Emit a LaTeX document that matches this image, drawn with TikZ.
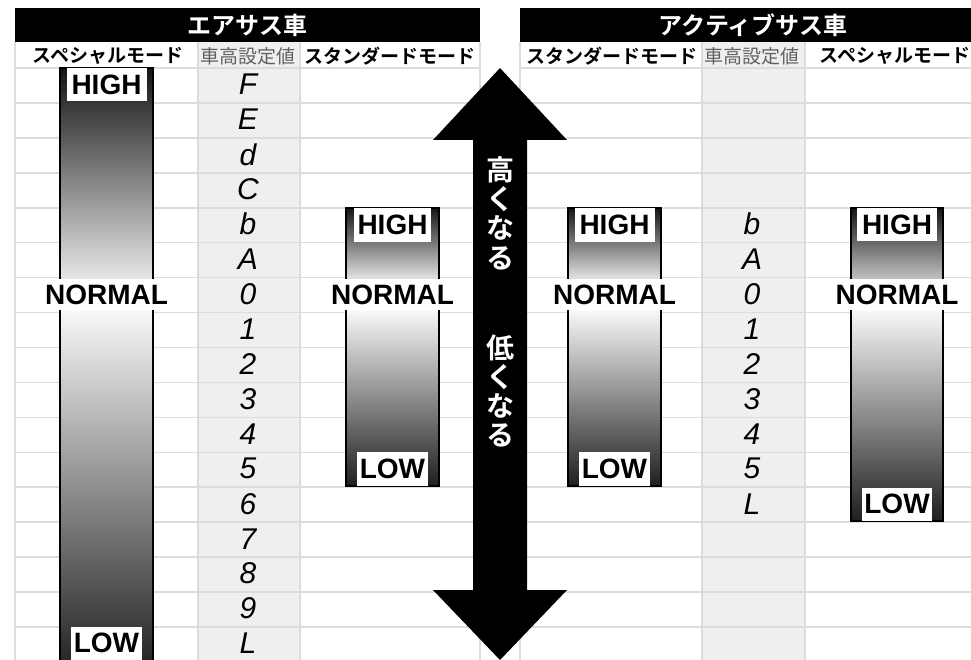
\documentclass[tikz,border=0pt]{standalone}
\usepackage{fontspec}
\setmainfont{Liberation Sans}
\newfontfamily\jp{Noto Sans CJK JP}[BoldFont=* Bold]
\usepackage{tikz}
\usetikzlibrary{positioning}

\definecolor{gridgray}{HTML}{DCDCDC}
\definecolor{colgray}{HTML}{EEF0F0}

\tikzset{
  gridline/.style={draw=gridgray, line width=1.6pt},
  header/.style={fill=black, text=white, minimum height=34pt, inner sep=0pt,
    font=\jp\bfseries\fontsize{24}{26}\selectfont},
  coltitle/.style={inner sep=0pt, font=\jp\bfseries\fontsize{19}{21}\selectfont},
  valtitle/.style={inner sep=0pt, text=black!62, font=\jp\fontsize{19}{21}\selectfont},
  segval/.style={inner sep=0pt, font=\itshape\fontsize{30}{30}\selectfont},
  level/.style={fill=white, inner xsep=2pt, inner ysep=0pt,
    font=\bfseries\fontsize{28}{28}\selectfont},
  barline/.style={draw=black, line width=2pt},
  arrowtext/.style={text=white, align=center, inner sep=0pt,
    font=\jp\bfseries\fontsize{28}{29.3}\selectfont},
}

\begin{document}
\begin{tikzpicture}[x=1pt, y=-1pt]

% page
\useasboundingbox (0,0) rectangle (971,660);
\clip (0,0) rectangle (971,660);
\fill[white] (0,0) rectangle (971,660);

% value columns
\fill[colgray] (198,42) rectangle (300,662);
\fill[colgray] (702,42) rectangle (805,662);

% table grid
\foreach \k in {0,...,17}{
  \draw[gridline] (15,{68+34.94*\k}) -- (480,{68+34.94*\k});
  \draw[gridline] (520,{68+34.94*\k}) -- (980,{68+34.94*\k});
}
\foreach \x in {15,198,300,480,520,702,805}
  \draw[gridline] (\x,42) -- (\x,662);

% table headers
\node[header, minimum width=465pt] (airhead) at (247.5,25) {エアサス車};
\node[header, minimum width=466pt] (acthead) at (753,25) {アクティブサス車};

% column titles
\node[coltitle] (airspecial) at (108,56) {スペシャルモード};
\node[valtitle] (airvalue) at (248,56) {車高設定値};
\node[coltitle] (airstandard) at (390,56) {スタンダードモード};
\node[coltitle] (actstandard) at (612,56) {スタンダードモード};
\node[valtitle] (actvalue) at (752,56) {車高設定値};
\node[coltitle] (actspecial) at (895,56) {スペシャルモード};

% height setting values
\foreach \v [count=\k from 0] in {F,E,d,C,b,A,0,1,2,3,4,5,6,7,8,9,L}
  \node[segval] (air\k) at (248,{67+34.94*(\k+0.5)}) {\v};
\foreach \v [count=\k from 4] in {b,A,0,1,2,3,4,5,L}
  \node[segval] (act\k) at (752,{67+34.94*(\k+0.5)}) {\v};

% special mode bar (air suspension)
\shade[top color=black!92, bottom color=black!10] (60,68) rectangle (153,278);
\shade[top color=black!3, bottom color=black!85] (60,311) rectangle (153,662);
\draw[barline] (60,68) rectangle (153,662);
\node[level, minimum width=80pt, minimum height=33pt, anchor=north] (airsphigh) at (106.5,68) {HIGH};
\node[level, minimum height=31pt] (airspnormal) at (106.5,294.5) {NORMAL};
\node[level, minimum width=71pt, minimum height=33pt, anchor=south] (airsplow) at (106.5,660) {LOW};

% standard mode bar (air suspension)
\shade[top color=black!92, bottom color=black!12] (346,208) rectangle (439,278);
\shade[top color=black!3, bottom color=black!88] (346,311) rectangle (439,486);
\draw[barline] (346,208) rectangle (439,486);
\node[level, minimum width=77pt, minimum height=34pt, anchor=north] (airsthigh) at (392.5,208) {HIGH};
\node[level, minimum height=31pt] (airstnormal) at (392.5,294.5) {NORMAL};
\node[level, minimum width=71pt, minimum height=34pt, anchor=south] (airstlow) at (392.5,486) {LOW};

% standard mode bar (active suspension)
\shade[top color=black!92, bottom color=black!12] (568,208) rectangle (661,278);
\shade[top color=black!3, bottom color=black!88] (568,311) rectangle (661,486);
\draw[barline] (568,208) rectangle (661,486);
\node[level, minimum width=80pt, minimum height=34pt, anchor=north] (actsthigh) at (614.5,208) {HIGH};
\node[level, minimum height=31pt] (actstnormal) at (614.5,294.5) {NORMAL};
\node[level, minimum width=71pt, minimum height=34pt, anchor=south] (actstlow) at (614.5,486) {LOW};

% special mode bar (active suspension)
\shade[top color=black!92, bottom color=black!25] (851,208) rectangle (943,278);
\shade[top color=black!3, bottom color=black!88] (851,311) rectangle (943,521);
\draw[barline] (851,208) rectangle (943,521);
\node[level, minimum width=80pt, minimum height=33pt, anchor=north] (actsphigh) at (897,208) {HIGH};
\node[level, minimum height=31pt] (actspnormal) at (897,294.5) {NORMAL};
\node[level, minimum width=70pt, minimum height=33pt, anchor=south] (actsplow) at (897,521) {LOW};

% up / down arrow
\fill[black] (500,68) -- (567,140) -- (527,140) -- (527,590) -- (567,590) -- (500,660)
  -- (433,590) -- (473,590) -- (473,140) -- (433,140) -- cycle;
\node[arrowtext] (higher) at (500,213) {高\\く\\な\\る};
\node[arrowtext] (lower) at (500,391) {低\\く\\な\\る};

\end{tikzpicture}
\end{document}
